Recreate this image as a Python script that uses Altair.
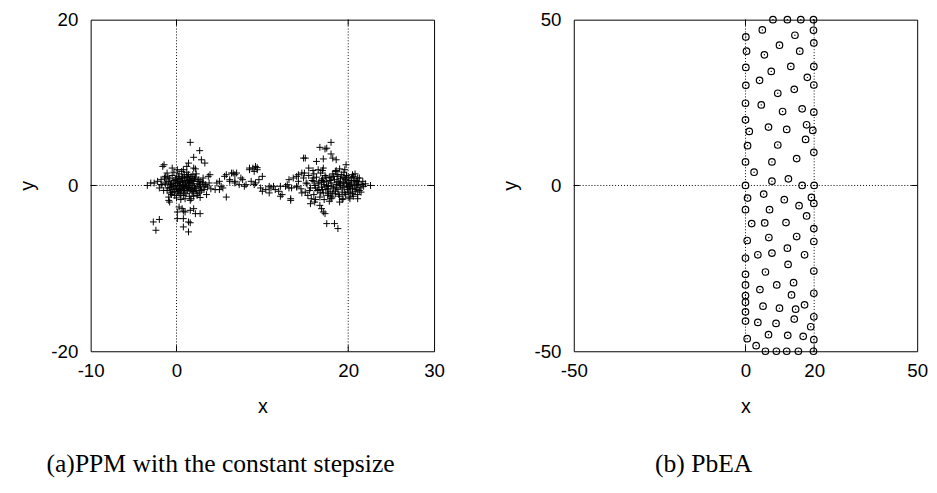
import altair as alt
import pandas as pd

# ---------------- data: (a) PPM with the constant stepsize ----------------
ppm_x = [
    # left cluster (dense)
    -1.2, -1.0, -0.8, -0.7, -0.6, -0.5, -0.4, -0.3, -0.2, -0.1,
    0.0, 0.1, 0.2, 0.3, 0.3, 0.4, 0.5, 0.6, 0.7, 0.8,
    0.9, 1.0, 1.1, 1.2, 1.3, 1.4, 1.5, 1.6, 1.7, 1.8,
    1.9, 2.0, 2.1, 2.2, 2.3, 2.4, 2.5, 2.6, 2.8, 3.0,
    3.2, 3.4, 3.6, 3.8, 4.0, -1.5, -1.4, -1.7, -2.0, -2.2,
    0.0, 0.5, 1.0, 1.2, 0.6, -0.3, 0.2, 0.9, 1.5, 0.4,
    -0.6, 1.9, 2.7, 0.8, 1.3, -0.9, 0.1, 1.7, 2.3, -0.2,
    0.7, 1.1, 0.3, 1.6, 2.0, -0.4, 0.9, 1.4, 0.5, 1.8,
    -1.3, -1.1, -0.9, -0.7, -0.5, -0.3, -0.1, 0.0, 0.2, 0.4,
    0.5, 0.6, 0.8, 1.0, 1.1, 1.3, 1.4, 1.6, 1.8, 1.9,
    2.1, 2.2, 2.4, 2.5, 2.7, 2.9, 3.1, 3.3, -1.0, -0.6,
    0.1, 0.7, 1.2, 1.7, 2.6, 0.3, -0.8, 1.5, 2.0, 0.9,
    # left cluster outliers
    1.6, 2.7, 2.0, 2.9, 3.3, -1.45, -1.6, 1.4, 1.2, -0.5,
    0.1, 0.8, 2.0, 2.2, -1.1, -1.3, 3.7, 3.9, -2.6, -3.0,
    -3.4, -1.8, -1.8, 2.75, 3.1, 4.7, 5.0, 4.5, 5.0, -0.9,
    1.6, 2.75, 3.5, 0.3, 0.65, 0.1, 1.0, 1.6, 2.0, 2.2,
    0.8, 0.1, 2.75, 1.4, -0.8, 0.8, 1.6, 0.8, 1.4, -2.4,
    -2.7, -2.0,
    # bridge
    5.6, 5.8, 6.4, 6.6, 6.8, 7.0, 6.2, 6.2, 6.8, 6.8,
    5.2, 5.4, 5.8, 7.5, 7.7, 7.3, 7.9, 8.5, 8.9, 9.4,
    9.2, 8.5, 9.4, 8.7, 9.2, 9.6, 10.0, 9.8, 10.4, 11.0,
    11.3, 10.0, 10.8, 12.1, 12.1, 12.3, 13.1, 12.9, 13.4, 14.0,
    14.0, 13.3, 11.5, 11.9, 10.8, 8.1, 9.05, 9.05,
    # right cluster (dense)
    14.2, 14.5, 14.8, 15.0, 15.2, 15.4, 15.6, 15.8, 16.0, 16.1,
    16.3, 16.4, 16.6, 16.7, 16.8, 16.9, 17.0, 17.1, 17.2, 17.3,
    17.4, 17.5, 17.6, 17.7, 17.8, 17.9, 18.0, 18.1, 18.2, 18.3,
    18.4, 18.5, 18.6, 18.7, 18.8, 18.9, 19.0, 19.1, 19.2, 19.3,
    19.4, 19.5, 19.6, 19.7, 19.8, 19.9, 20.0, 20.1, 20.2, 20.3,
    20.4, 20.5, 20.6, 20.7, 20.8, 20.9, 21.0, 21.2, 21.4, 21.6,
    21.8, 22.0, 16.2, 17.0, 18.5, 19.5, 20.2, 19.0, 17.8, 16.5,
    15.3, 14.9, 20.6, 21.3, 18.2, 17.5, 19.7, 16.9, 18.8, 20.0,
    15.7, 14.0, 21.5, 19.3, 18.0, 17.2, 20.8, 16.0,
    15.1, 15.5, 15.9, 16.2, 16.5, 16.8, 17.1, 17.4, 17.6, 17.9,
    18.1, 18.3, 18.5, 18.7, 18.9, 19.1, 19.3, 19.5, 19.6, 19.8,
    20.0, 20.2, 20.4, 20.5, 20.7, 20.9, 21.1, 21.3, 16.0, 17.0,
    18.0, 19.0, 20.1, 21.0, 17.7, 18.6, 19.4, 16.6, 20.3, 19.9,
    # right cluster outliers
    18.0, 16.7, 17.3, 17.5, 18.0, 14.8, 15.0, 18.2, 18.6, 16.3,
    17.1, 19.75, 15.4, 15.9, 17.1, 18.6, 19.6, 14.2, 14.6, 13.6,
    20.5, 21.1, 21.7, 22.6, 12.7, 13.1, 13.3, 14.6, 15.6, 16.1,
    16.7, 17.1, 17.3, 16.9, 18.0, 19.0, 19.4, 20.1, 21.1, 21.1,
    17.5, 18.4, 18.8,
]
ppm_y = [
    0.4, -0.3, 0.8, -0.9, 0.2, 1.2, -0.5, 0.6, -1.2, 0.0,
    0.9, -0.7, 0.3, -0.2, 1.4, -1.0, 0.5, -0.4, 1.0, 0.1,
    -0.8, 0.6, -0.1, 1.1, -0.6, 0.3, -1.3, 0.8, -0.3, 0.2,
    -0.9, 0.5, -0.2, 1.0, -0.6, 0.2, -1.0, 0.7, -0.3, 0.4,
    -0.5, 0.1, -0.2, 0.3, -0.4, -0.6, 0.9, 0.1, -0.3, 0.5,
    -1.5, -1.7, -1.6, 1.6, 1.7, 1.6, -0.9, 0.9, 0.0, 0.0,
    -0.2, 1.3, -0.8, -1.2, 0.5, -1.4, 0.5, -1.6, 1.4, -0.7,
    -0.1, 0.3, 0.8, -0.5, -1.3, 0.3, -0.4, 1.3, -0.6, 0.6,
    0.2, -0.6, 0.5, 0.1, -0.8, -0.1, 0.7, -0.4, 1.1, 0.4,
    -1.2, 0.8, -0.6, 0.0, -1.0, 1.0, -0.3, 0.4, -0.7, 0.0,
    0.8, -0.4, -1.2, 0.5, 0.1, -0.6, 0.9, -0.1, 1.0, -1.1,
    0.2, 0.4, -0.2, 1.1, -0.1, -0.5, -0.3, 0.7, -0.7, 1.3,
    5.2, 4.2, 3.4, 3.1, 2.7, 2.5, 2.3, 2.7, 2.3, 2.1,
    1.9, 1.9, 2.1, 2.0, 1.5, 1.1, 1.1, 1.3, 0.3, 0.3,
    0.0, 0.7, 0.1, 0.5, 0.3, 0.3, 0.5, -0.5, -0.5, -1.8,
    -1.8, -1.45, -1.1, -2.6, -2.8, -3.2, -3.2, -3.0, -2.8, -3.4,
    -4.0, -4.0, -3.4, -4.4, -2.0, -3.1, -4.5, -5.0, -5.6, -5.4,
    -4.4, -4.1,
    1.1, 1.3, 1.5, 1.5, 1.3, 1.5, 0.7, 0.5, 0.3, 0.5,
    -0.1, -0.3, -1.4, 0.9, 0.7, 0.1, -0.1, 1.9, 2.1, 1.9,
    2.3, 2.1, 2.15, 0.5, 0.3, 0.7, 1.1, -0.3, -0.5, -0.3,
    -0.1, -0.7, -0.9, -0.1, -1.3, -1.1, 0.7, 0.1, -0.3, 1.1,
    -0.1, -1.6, -0.5, -0.7, -0.1, 0.1, 0.1, 1.7,
    0.5, -0.4, 0.9, -0.8, 0.2, 1.2, -0.3, 0.6, -1.1, 0.0,
    1.0, -0.6, 0.4, -1.4, 1.5, -0.2, 0.8, -0.9, 0.1, 1.2,
    -0.5, 0.5, -1.2, 0.0, 1.0, -0.7, 0.3, -1.5, 1.4, -0.3,
    0.7, -1.0, 0.1, 1.1, -0.5, 0.5, -1.3, 0.0, 1.3, -0.8,
    0.4, -0.2, 0.9, -1.1, 0.2, -0.5, 1.0, -0.1, 0.6, -0.9,
    0.3, -0.4, 1.1, 0.0, -0.7, 0.5, -0.2, 0.3, -0.3, 0.1,
    -0.1, 0.2, -1.7, 1.8, 1.7, 1.6, -1.6, 2.0, -1.9, 1.9,
    -1.2, 1.5, -1.3, 0.9, -0.9, -0.1, 0.7, 0.6, 1.3, -0.8,
    -1.6, -0.2, -0.8, -1.7, -1.3, -1.7, 1.4, 1.4,
    0.3, -0.6, 0.9, -0.3, 0.2, -0.9, 0.4, 1.0, -0.4, 0.6,
    -0.1, 1.1, -0.7, 0.4, -1.1, 0.8, -0.3, 0.3, -0.9, 1.2,
    0.4, -0.4, 0.9, -1.0, 0.6, -0.5, 0.1, -0.6, 0.5, -0.5,
    0.9, 0.2, -0.2, 0.5, -1.0, -0.3, 1.0, -0.5, 0.1, -0.1,
    5.2, 4.6, 4.4, 4.5, 3.8, 3.3, 3.3, 3.3, 3.1, 2.9,
    3.2, 2.5, 2.1, 1.8, 2.1, 1.8, 1.9, 1.3, 1.5, 0.9,
    1.3, 0.9, 0.5, 0.0, -0.1, -0.3, -1.8, -0.9, -2.2, -2.0,
    -2.4, -3.2, -3.4, -2.8, -1.6, -2.0, -1.6, -1.4, -1.1, -1.6,
    -4.6, -4.6, -5.2,
]

# ---------------- data: (b) PbEA ----------------
pbea_x = [
    8.0, 12.2, 16.1, 19.8,
    19.8, 4.9, 0.1, 14.4, 19.9, 9.9, 0.3, 5.5, 15.8, 19.9,
    0.1, 13.2, 7.5, 4.1, 18.0, 0.1, 19.9, 9.4, 14.2, 0.0,
    4.6, 10.8, 16.5, 19.9, 0.0, 1.1, 6.7, 12.0, 17.8, 19.6,
    0.6, 9.4, 17.5, 19.9, 0.0, 7.7, 14.9, 2.5, 7.7, 12.5,
    0.0, 16.5, 20.0, 0.6, 5.3, 11.3, 19.2, 19.9, 0.0, 7.0,
    15.6, 17.8, 1.8, 5.6, 11.8, 19.9, 0.5, 6.8, 14.9, 19.9,
    0.0, 3.6, 7.7, 12.2, 17.2, 12.4, 0.0, 5.8, 19.9, 0.0,
    4.2, 9.1, 14.0, 13.4, 19.9, 0.0, 0.0, 5.1, 9.9, 17.2,
    0.0, 14.6, 19.9, 0.0, 3.6, 8.9, 14.2, 19.0, 6.7, 12.3,
    16.8, 19.9, 0.5, 3.1,
    5.8, 9.0, 12.0, 15.4, 19.8,
]
pbea_y = [
    50.0, 50.0, 50.0, 50.0,
    46.8, 46.9, 44.8, 45.3, 43.0, 42.3, 40.5, 39.4, 40.5, 35.9,
    35.6, 35.9, 34.4, 31.7, 32.6, 30.2, 30.3, 27.8, 29.0, 24.8,
    24.3, 22.3, 23.1, 22.1, 19.8, 16.3, 17.6, 16.9, 18.3, 16.6,
    12.0, 12.2, 13.9, 10.0, 7.1, 7.1, 8.1, 4.0, 1.3, 2.0,
    0.0, 0.0, 0.0, -3.8, -2.6, -4.3, -3.6, -5.4, -7.3, -7.3,
    -6.1, -9.2, -11.5, -11.3, -11.2, -13.0, -16.6, -15.7, -15.4, -16.9,
    -21.9, -20.9, -20.4, -18.9, -20.9, -23.8, -26.8, -26.1, -25.8, -30.0,
    -31.4, -30.0, -29.3, -33.0, -32.5, -33.2, -35.2, -36.4, -37.0, -36.0,
    -38.1, -37.3, -39.6, -40.9, -41.3, -41.6, -40.3, -42.6, -45.0, -45.2,
    -45.5, -46.5, -46.2, -48.3,
    -50.0, -50.0, -50.0, -50.0, -50.0,
]

left_xticks = [-10, 0, 20, 30]
left_yticks = [-20, 0, 20]
right_xticks = [-50, 0, 20, 50]
right_yticks = [-50, 0, 50]
grid_x = [0, 20]
grid_y = [0]
captions = ["(a)PPM with the constant stepsize", "(b) PbEA"]

W, H = 349, 337
SANS = "Liberation Sans"
SERIF = "Liberation Serif"
HYPHEN_LABEL = "datum.value < 0 ? '-' + (-datum.value) : '' + datum.value"


def panel(df, xdom, ydom, xticks, yticks, point_layers, caption):
    xs = alt.Scale(domain=xdom, nice=False, zero=False)
    ys = alt.Scale(domain=ydom, nice=False, zero=False)
    xaxis = alt.Axis(values=xticks, title="x", grid=False, ticks=False, tickSize=0,
                     domain=False, labelFont=SANS, labelFontSize=19, labelPadding=11,
                     labelColor="black", titleFont=SANS, titleFontSize=20,
                     titleFontWeight="normal", titleColor="black", titlePadding=16,
                     labelOverlap=False, labelFlush=False, labelExpr=HYPHEN_LABEL)
    yaxis = alt.Axis(values=yticks, title="y", grid=False, ticks=False, tickSize=0,
                     domain=False, labelFont=SANS, labelFontSize=19, labelPadding=13,
                     labelColor="black", titleFont=SANS, titleFontSize=20,
                     titleFontWeight="normal", titleColor="black", titlePadding=14,
                     labelOverlap=False, labelFlush=False, labelExpr=HYPHEN_LABEL)
    X = lambda: alt.X("x:Q", scale=xs, axis=xaxis)
    Y = lambda: alt.Y("y:Q", scale=ys, axis=yaxis)

    gx = pd.DataFrame({"x": grid_x})
    gy = pd.DataFrame({"y": grid_y})
    layers = []
    layers.append(alt.Chart(gx).mark_rule(color="black", strokeWidth=1, strokeDash=[1, 2])
                  .encode(x=X()))
    layers.append(alt.Chart(gy).mark_rule(color="black", strokeWidth=1, strokeDash=[1, 2])
                  .encode(y=Y()))
    # inward ticks (gnuplot style, mirrored)
    layers.append(alt.Chart(gx).mark_rule(color="black", strokeWidth=1)
                  .encode(x=X(), y=alt.value(0), y2=alt.value(6)))
    layers.append(alt.Chart(gx).mark_rule(color="black", strokeWidth=1)
                  .encode(x=X(), y=alt.value(H - 6), y2=alt.value(H)))
    layers.append(alt.Chart(gy).mark_rule(color="black", strokeWidth=1)
                  .encode(y=Y(), x=alt.value(0), x2=alt.value(6)))
    layers.append(alt.Chart(gy).mark_rule(color="black", strokeWidth=1)
                  .encode(y=Y(), x=alt.value(W - 6), x2=alt.value(W)))
    for mk in point_layers:
        layers.append(alt.Chart(df).mark_point(**mk).encode(x=X(), y=Y()))
    cap = pd.DataFrame({"c": [caption]})
    layers.append(alt.Chart(cap).mark_text(font=SERIF, fontSize=26, align="center",
                                           baseline="alphabetic", color="black")
                  .encode(text="c:N", x=alt.value(132), y=alt.value(460)))
    return alt.layer(*layers).properties(width=W, height=H)


df_a = pd.DataFrame({"x": ppm_x, "y": ppm_y})
df_b = pd.DataFrame({"x": pbea_x, "y": pbea_y})

plus = dict(shape="M-1,0L1,0M0,-1L0,1", size=49, filled=False, strokeWidth=1,
            color="black", opacity=1)
circ = dict(shape="circle", size=44, filled=False, strokeWidth=1.2, color="black", opacity=1)
dot = dict(shape="circle", size=2, filled=True, color="black", opacity=1)

left = panel(df_a, [-10, 30], [-20, 20], left_xticks, left_yticks, [plus], captions[0])
right = panel(df_b, [-50, 50], [-50, 50], right_xticks, right_yticks, [circ, dot], captions[1])

chart = (
    alt.hconcat(left, right, spacing=55)
    .properties(padding={"left": 9, "top": -2, "right": 0, "bottom": 0}, background="white")
    .configure_view(stroke="black", strokeWidth=1)
)

chart.save("out.html", embed_options={"renderer": "svg", "actions": False})
